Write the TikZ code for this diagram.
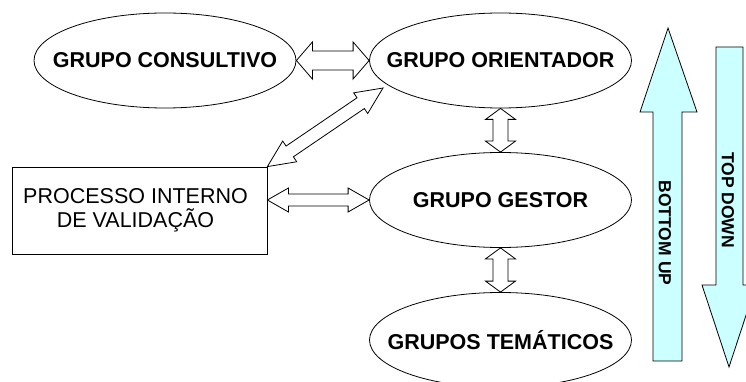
\documentclass[tikz,border=0pt]{standalone}
\usepackage{fontspec}
\setmainfont{Liberation Sans}
\usetikzlibrary{shapes.geometric,calc}
\definecolor{lcyan}{HTML}{CCFFFF}
\tikzset{
 grp/.style={ellipse, draw, line width=0.8pt, inner sep=0pt, minimum width=262pt, minimum height=95pt, font=\fontsize{21.5}{25}\selectfont\bfseries},
 procbox/.style={rectangle, draw, line width=0.8pt, minimum width=255pt, minimum height=87pt},
 boxtext/.style={align=center, inner sep=0pt, font=\fontsize{21.5}{23.5}\selectfont},
 blockarrow/.style={draw, fill=white, line width=0.8pt, line join=miter},
 bigarrow/.style={draw, fill=lcyan, line width=0.8pt, line join=miter},
 vlabel/.style={rotate=-90, inner sep=0pt, font=\fontsize{17.5}{20}\selectfont\bfseries}
}
% #1 start, #2 end, #3 shaft half width, #4 head half width, #5 head length
\newcommand{\dblarr}[5]{%
  \draw[blockarrow] let \p1=(#1), \p2=(#2), \n1={atan2(\y2-\y1,\x2-\x1)}, \n2={veclen(\x2-\x1,\y2-\y1)} in
  [shift={(\p1)}, rotate=\n1]
  (0,0) -- (#5,#4) -- (#5,#3) -- ({\n2-#5},#3) -- ({\n2-#5},#4) -- (\n2,0) -- ({\n2-#5},-#4) -- ({\n2-#5},-#3) -- (#5,-#3) -- (#5,-#4) -- cycle;}
\begin{document}
\begin{tikzpicture}[x=1pt,y=-1pt]
\clip (0,0) rectangle (746,382);
\fill[white] (0,0) rectangle (746,382);
\node[grp] (cons) at (165,60.5) {\makebox[0pt]{GRUPO CONSULTIVO}};
\node[grp] (ori) at (500.5,60.5) {\makebox[0pt]{GRUPO ORIENTADOR}};
\node[grp] (ges) at (500.5,200) {\makebox[0pt]{GRUPO GESTOR}};
\node[grp] (tem) at (500.5,340) {\makebox[0pt]{GRUPOS TEMÁTICOS}};
\node[procbox] (box) at (139.5,210.5) {};
\node[boxtext] (boxt) at ($(box.center)+(-4,0)$) {PROCESSO INTERNO\\DE VALIDAÇÃO};
\coordinate (dtip) at (383,88);
\dblarr{cons.east}{ori.west}{9.5}{18.5}{16}
\dblarr{box.north east}{dtip}{6.5}{12.5}{27}
\dblarr{ori.south}{ges.north}{7.5}{15}{11}
\dblarr{ges.south}{tem.north}{7.5}{15}{11}
\dblarr{box.east |- ges.west}{ges.west}{6}{12}{21}
% bottom-up arrow
\draw[bigarrow] (668,28) -- (697,112) -- (682,112) -- (682,361) -- (653,361) -- (653,112) -- (640,112) -- cycle;
\node[vlabel] (bu) at (665,233) {BOTTOM UP};
% top-down arrow
\draw[bigarrow] (716,47) -- (743,47) -- (743,285) -- (756,285) -- (729,367) -- (702,285) -- (716,285) -- cycle;
\node[vlabel] (td) at (728,200) {TOP DOWN};
\end{tikzpicture}
\end{document}
